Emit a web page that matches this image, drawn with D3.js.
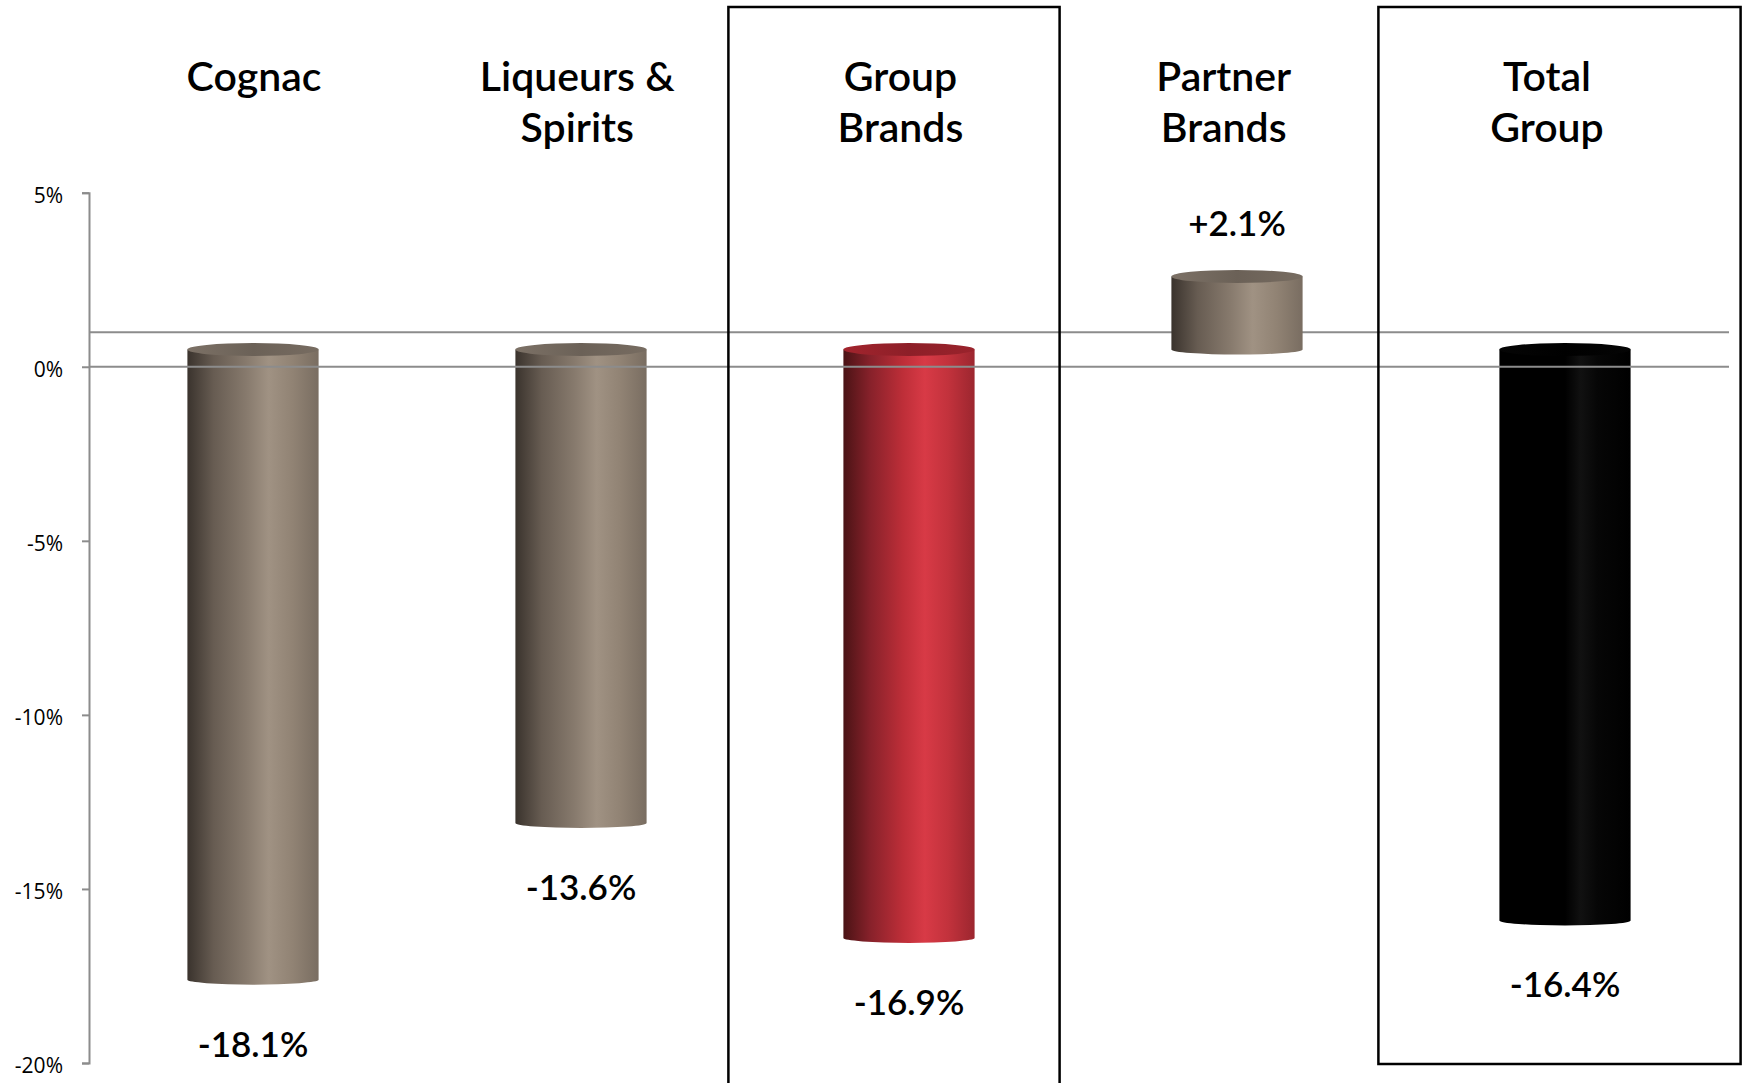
<!DOCTYPE html>
<html>
<head>
<meta charset="utf-8">
<script src="https://cdn.jsdelivr.net/npm/d3@7"></script>
<style>
  html, body { margin: 0; padding: 0; background: #ffffff; }
  svg { display: block; }
  .header { font-family: Lato, "Noto Sans", sans-serif; font-size: 41px; font-weight: 600; fill: #000; }
  .value { font-family: Lato, "Noto Sans", sans-serif; font-size: 35px; font-weight: 600; fill: #000; }
  .tick text { font-family: "Open Sans", "Noto Sans", sans-serif; font-size: 21px; fill: #000; }
</style>
</head>
<body>
<svg id="chart" width="1742" height="1083"></svg>
<script>
// Volume growth by division (%)
const categories = ["Cognac", "Liqueurs & Spirits", "Group Brands", "Partner Brands", "Total Group"];
const headerLines = [["Cognac"], ["Liqueurs &", "Spirits"], ["Group", "Brands"], ["Partner", "Brands"], ["Total", "Group"]];
const values = [-18.1, -13.6, -16.9, 2.1, -16.4];
const valueLabels = ["-18.1%", "-13.6%", "-16.9%", "+2.1%", "-16.4%"];
const barTones = ["taupe", "taupe", "red", "taupe", "black"];
const yTicks = [5, 0, -5, -10, -15, -20];
const highlighted = ["Group Brands", "Total Group"];

const W = 1742, H = 1083;
const svg = d3.select("#chart");
svg.append("rect").attr("width", W).attr("height", H).attr("fill", "#fff");

const plotLeft = 89, plotRight = 1729;
const y = d3.scaleLinear().domain([-20, 5]).range([1063, 192.7]);
const x = d3.scaleBand().domain(categories).range([plotLeft, plotRight])
  .paddingInner(0.6).paddingOuter(0.3);
// header text sits on a slightly tighter spacing than the bars
const headerX = d3.scalePoint().domain(categories).range([254, 1547]);

// pseudo-3D: bars stand halfway between the front and back planes
const depth = 34.4;
const barShift = depth / 2;
const yBar = v => y(v) - barShift;
const capRy = 6.5, baseRy = 5;

// gradients for the cylinder bodies and caps
const defs = svg.append("defs");
const tones = {
  taupe: {
    body: [[0, "#3a332d"], [0.2, "#675c52"], [0.45, "#877a6d"], [0.62, "#a09283"], [0.8, "#918374"], [1, "#796d61"]],
    cap: [[0, "#7c7166"], [0.5, "#6b6157"], [1, "#776c61"]]
  },
  red: {
    body: [[0, "#4a1315"], [0.2, "#86212a"], [0.45, "#bd2e38"], [0.62, "#d83a46"], [0.8, "#c2323c"], [1, "#9c262f"]],
    cap: [[0, "#a2242d"], [0.5, "#8d1f28"], [1, "#9a232c"]]
  },
  black: {
    body: [[0, "#000"], [0.5, "#000"], [0.62, "#111"], [0.75, "#060606"], [1, "#000"]],
    cap: [[0, "#050505"], [0.5, "#000"], [1, "#050505"]]
  }
};
Object.entries(tones).forEach(([name, t]) => {
  ["body", "cap"].forEach(part => {
    const g = defs.append("linearGradient").attr("id", `${name}-${part}`)
      .attr("x1", 0).attr("x2", 1).attr("y1", 0).attr("y2", 0);
    t[part].forEach(([o, c]) => g.append("stop").attr("offset", o).attr("stop-color", c));
  });
});

// back-plane zero line (behind the bars)
svg.append("line")
  .attr("x1", plotLeft).attr("x2", plotRight)
  .attr("y1", y(0) - depth).attr("y2", y(0) - depth)
  .attr("stroke", "#8c8c8c").attr("stroke-width", 2);

// cylinders
const data = categories.map((c, i) => ({ cat: c, v: values[i], tone: barTones[i], label: valueLabels[i], lines: headerLines[i] }));
const bars = svg.append("g").selectAll("g").data(data).join("g");
bars.append("path")
  .attr("fill", d => `url(#${d.tone}-body)`)
  .attr("d", d => {
    const x0 = x(d.cat), x1 = x0 + x.bandwidth(), rx = x.bandwidth() / 2;
    const yTop = yBar(Math.max(0, d.v)), yBot = yBar(Math.min(0, d.v));
    return `M${x0},${yTop} L${x0},${yBot} A${rx},${baseRy} 0 0 0 ${x1},${yBot} L${x1},${yTop} Z`;
  });
bars.append("ellipse")
  .attr("cx", d => x(d.cat) + x.bandwidth() / 2)
  .attr("cy", d => yBar(Math.max(0, d.v)))
  .attr("rx", x.bandwidth() / 2)
  .attr("ry", capRy)
  .attr("fill", d => `url(#${d.tone}-cap)`);

// front zero line (over the bars)
svg.append("line")
  .attr("x1", plotLeft).attr("x2", plotRight)
  .attr("y1", y(0)).attr("y2", y(0))
  .attr("stroke", "#8c8c8c").attr("stroke-width", 2);

// value axis
const axis = svg.append("g")
  .attr("transform", `translate(${plotLeft},0)`)
  .call(d3.axisLeft(y).tickValues(yTicks).tickFormat(d => `${d}%`).tickSize(7).tickSizeOuter(7).tickPadding(19));
axis.select(".domain").attr("stroke", "#8c8c8c").attr("stroke-width", 2);
axis.selectAll(".tick line").attr("stroke", "#8c8c8c").attr("stroke-width", 2);
axis.selectAll(".tick text").attr("dy", "0.45em");

// highlight frames
const frameLayout = {
  "Group Brands": { padL: 115, padR: 85, top: 7, bottom: 1095 },
  "Total Group": { padL: 121, padR: 110, top: 7, bottom: 1064 }
};
svg.append("g").selectAll("rect").data(highlighted).join("rect")
  .attr("x", c => x(c) - frameLayout[c].padL)
  .attr("y", c => frameLayout[c].top)
  .attr("width", c => x.bandwidth() + frameLayout[c].padL + frameLayout[c].padR)
  .attr("height", c => frameLayout[c].bottom - frameLayout[c].top)
  .attr("fill", "none").attr("stroke", "#000").attr("stroke-width", 2.5);

// category headers
const headers = svg.append("g").selectAll("text").data(data).join("text")
  .attr("class", "header")
  .attr("text-anchor", "middle")
  .attr("x", d => headerX(d.cat))
  .attr("y", 91);
headers.selectAll("tspan").data(d => d.lines).join("tspan")
  .attr("x", function () { return d3.select(this.parentNode).attr("x"); })
  .attr("dy", (l, i) => i === 0 ? 0 : 50.5)
  .text(l => l);

// value labels
svg.append("g").selectAll("text").data(data).join("text")
  .attr("class", "value")
  .attr("text-anchor", "middle")
  .attr("x", d => x(d.cat) + x.bandwidth() / 2)
  .attr("y", d => d.v < 0 ? yBar(d.v) + 77 : yBar(d.v) - 40)
  .text(d => d.label);
</script>
</body>
</html>
